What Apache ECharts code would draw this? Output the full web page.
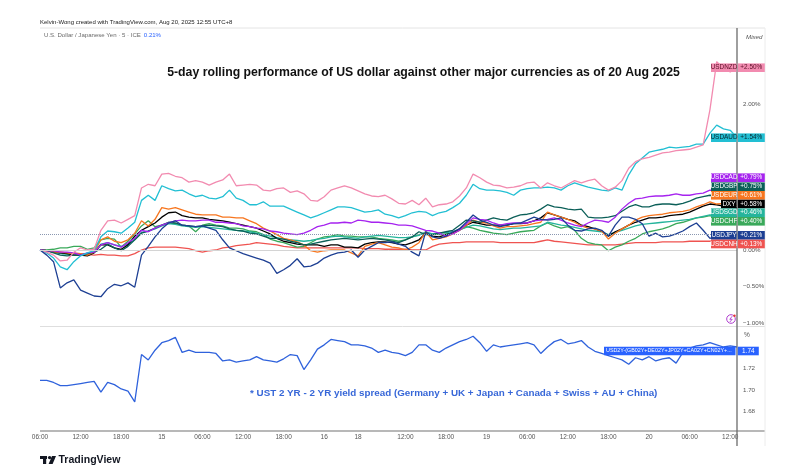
<!DOCTYPE html>
<html><head><meta charset="utf-8">
<script src="https://cdn.jsdelivr.net/npm/echarts@6/dist/echarts.min.js"></script>
<style>html,body{margin:0;padding:0;background:#fff}#c{width:800px;height:472px}</style>
</head><body><div id="c"></div>
<script>
// ---------- DATA ----------
const daySegments = [[14,6,23],[15,0,23],[16,0,4],[18,5,23],[19,0,23],[20,0,13]];
const categories = [];
daySegments.forEach(([d,a,b]) => { for (let h = a; h <= b; h++) categories.push('Aug ' + d + ' ' + String(h).padStart(2,'0') + ':00'); });

const xTickIndex = [0,6,12,18,24,30,36,42,47,54,60,66,72,78,84,90,96,102];
const xTickText  = ['06:00','12:00','18:00','15','06:00','12:00','18:00','16','18','12:00','18:00','19','06:00','12:00','18:00','20','06:00','12:00'];
const topTicks = [2, 0, -0.5, -1];
const bottomTicks = [1.72, 1.70, 1.68];

const USDNZD = [
 0.00,-0.03,-0.07,-0.15,-0.14,-0.03,0.03,0.00,0.01,0.27,
 0.40,0.41,0.37,0.42,0.47,0.85,0.90,0.88,1.04,1.05,
 1.01,0.99,0.93,0.95,0.93,0.89,0.93,0.96,1.04,0.88,
 0.89,0.90,0.89,0.82,0.81,0.84,0.85,0.79,0.81,0.77,
 0.68,0.67,0.73,0.82,0.85,0.88,0.85,0.81,0.77,0.74,
 0.73,0.75,0.70,0.64,0.63,0.68,0.62,0.71,0.59,0.62,
 0.63,0.66,0.74,0.85,1.04,0.99,0.93,0.89,0.88,0.85,
 0.86,0.88,0.92,0.93,0.85,0.92,0.88,0.85,0.90,0.95,
 0.92,0.95,0.97,0.88,0.82,0.86,0.95,1.12,1.21,1.25,
 1.27,1.30,1.33,1.34,1.36,1.37,1.38,1.41,1.44,1.92,
 2.58,2.49,2.44,2.50];
const USDAUD = [
 0.00,-0.04,-0.11,-0.23,-0.27,-0.16,-0.08,-0.04,-0.01,0.18,
 0.26,0.25,0.23,0.30,0.38,0.68,0.75,0.68,0.88,0.84,
 0.81,0.82,0.77,0.73,0.75,0.71,0.70,0.73,0.82,0.71,
 0.68,0.62,0.62,0.66,0.60,0.60,0.60,0.56,0.52,0.48,
 0.44,0.47,0.51,0.55,0.59,0.59,0.58,0.55,0.52,0.53,
 0.55,0.49,0.47,0.44,0.47,0.51,0.53,0.52,0.47,0.51,
 0.53,0.58,0.64,0.75,0.90,0.84,0.82,0.82,0.81,0.79,
 0.75,0.82,0.84,0.85,0.85,0.86,0.85,0.82,0.88,0.92,
 0.89,0.86,0.84,0.82,0.81,0.85,0.82,1.03,1.18,1.26,
 1.34,1.36,1.38,1.41,1.40,1.41,1.42,1.45,1.45,1.60,
 1.71,1.66,1.64,1.54];
const USDCAD = [
 0.00,-0.01,-0.01,-0.03,-0.03,-0.04,-0.07,-0.04,-0.03,0.07,
 0.10,0.07,0.04,0.10,0.16,0.27,0.25,0.30,0.34,0.37,
 0.40,0.41,0.40,0.40,0.41,0.41,0.38,0.38,0.37,0.36,
 0.33,0.32,0.30,0.29,0.26,0.25,0.23,0.22,0.21,0.23,
 0.27,0.32,0.34,0.37,0.37,0.38,0.37,0.41,0.40,0.38,
 0.38,0.37,0.36,0.34,0.34,0.33,0.30,0.27,0.26,0.23,
 0.19,0.22,0.27,0.36,0.44,0.42,0.41,0.37,0.34,0.36,
 0.37,0.37,0.37,0.40,0.41,0.42,0.44,0.41,0.37,0.34,
 0.32,0.37,0.41,0.40,0.38,0.45,0.56,0.64,0.70,0.71,
 0.73,0.74,0.74,0.75,0.77,0.75,0.75,0.77,0.78,0.82,
 0.81,0.79,0.81,0.79];
const USDGBP = [
 0.00,-0.01,-0.04,-0.07,-0.08,-0.07,-0.07,-0.05,-0.03,0.01,
 0.08,0.03,-0.01,0.05,0.14,0.23,0.26,0.30,0.34,0.38,
 0.37,0.34,0.33,0.32,0.33,0.34,0.33,0.32,0.29,0.27,
 0.26,0.23,0.22,0.19,0.16,0.16,0.15,0.12,0.10,0.07,
 0.08,0.10,0.12,0.14,0.15,0.16,0.15,0.14,0.15,0.16,
 0.15,0.14,0.12,0.10,0.14,0.18,0.25,0.21,0.21,0.23,
 0.25,0.27,0.34,0.41,0.40,0.38,0.41,0.44,0.42,0.41,
 0.45,0.48,0.49,0.51,0.56,0.62,0.59,0.58,0.56,0.55,
 0.56,0.45,0.44,0.44,0.45,0.47,0.53,0.59,0.62,0.59,
 0.59,0.62,0.63,0.63,0.62,0.64,0.67,0.71,0.73,0.75,
 0.74,0.75,0.75,0.75];
const USDEUR = [
 0.00,-0.01,-0.03,-0.03,-0.04,-0.05,-0.05,-0.07,-0.03,0.14,
 0.18,0.12,0.10,0.14,0.23,0.40,0.33,0.42,0.58,0.56,
 0.58,0.55,0.52,0.49,0.48,0.48,0.48,0.45,0.45,0.44,
 0.44,0.40,0.36,0.30,0.26,0.21,0.16,0.14,0.11,0.07,
 -0.01,-0.03,-0.01,0.00,0.00,0.00,-0.04,-0.08,0.05,0.08,
 0.10,0.07,0.04,0.03,0.00,0.04,0.10,0.25,0.14,0.16,
 0.18,0.22,0.27,0.34,0.41,0.38,0.37,0.33,0.30,0.32,
 0.32,0.33,0.34,0.36,0.38,0.52,0.48,0.45,0.42,0.38,
 0.33,0.30,0.29,0.26,0.15,0.23,0.29,0.34,0.41,0.45,
 0.47,0.48,0.49,0.51,0.52,0.53,0.55,0.59,0.62,0.66,
 0.63,0.64,0.62,0.61];
const DXY = [
 0.00,-0.01,-0.03,-0.04,-0.05,-0.07,-0.07,-0.08,-0.04,0.07,
 0.07,0.03,0.01,0.07,0.19,0.27,0.32,0.37,0.45,0.51,
 0.52,0.47,0.45,0.44,0.44,0.42,0.41,0.40,0.38,0.36,
 0.34,0.32,0.30,0.26,0.22,0.16,0.12,0.10,0.08,0.07,
 0.07,0.07,0.05,0.07,0.07,0.04,0.04,0.03,0.08,0.10,
 0.11,0.11,0.10,0.08,0.07,0.10,0.14,0.23,0.19,0.18,
 0.21,0.23,0.29,0.34,0.38,0.36,0.34,0.34,0.34,0.34,
 0.36,0.36,0.37,0.40,0.44,0.51,0.48,0.45,0.42,0.40,
 0.34,0.32,0.29,0.26,0.19,0.25,0.29,0.34,0.38,0.41,
 0.44,0.44,0.45,0.47,0.48,0.49,0.52,0.56,0.60,0.63,
 0.62,0.60,0.59,0.58];
const USDSGD = [
 0.00,-0.01,-0.03,-0.05,-0.06,-0.05,-0.06,-0.05,-0.03,0.08,
 0.10,0.07,0.05,0.08,0.14,0.24,0.26,0.29,0.33,0.36,
 0.35,0.33,0.32,0.31,0.32,0.31,0.30,0.29,0.28,0.27,
 0.26,0.25,0.23,0.21,0.19,0.17,0.15,0.14,0.13,0.12,
 0.13,0.15,0.16,0.18,0.19,0.18,0.17,0.16,0.18,0.19,
 0.20,0.19,0.18,0.17,0.17,0.18,0.20,0.25,0.22,0.23,
 0.24,0.25,0.28,0.31,0.34,0.33,0.31,0.29,0.28,0.29,
 0.30,0.30,0.31,0.32,0.33,0.38,0.36,0.34,0.33,0.31,
 0.29,0.27,0.26,0.25,0.21,0.24,0.27,0.30,0.33,0.35,
 0.36,0.37,0.38,0.39,0.40,0.41,0.42,0.44,0.46,0.48,
 0.47,0.46,0.47,0.46];
const USDCHF = [
 0.00,0.00,0.01,0.03,0.03,0.05,0.05,0.01,0.03,0.14,
 0.16,0.15,0.04,0.12,0.22,0.33,0.40,0.32,0.34,0.37,
 0.36,0.34,0.33,0.25,0.34,0.36,0.34,0.33,0.30,0.30,
 0.29,0.26,0.25,0.21,0.15,0.12,0.10,0.07,0.04,0.05,
 0.10,0.15,0.18,0.19,0.21,0.19,0.19,0.18,0.18,0.18,
 0.16,0.15,0.14,0.12,0.14,0.18,0.21,0.23,0.22,0.21,
 0.22,0.23,0.27,0.32,0.30,0.27,0.25,0.23,0.22,0.21,
 0.23,0.25,0.26,0.27,0.33,0.37,0.33,0.30,0.32,0.27,
 0.16,0.10,0.08,0.07,-0.01,0.04,0.07,0.12,0.16,0.22,
 0.25,0.27,0.29,0.32,0.36,0.38,0.41,0.44,0.45,0.47,
 0.44,0.41,0.40,0.40];
const USDJPY = [
 0.00,-0.07,-0.16,-0.52,-0.45,-0.41,-0.55,-0.59,-0.63,-0.64,
 -0.53,-0.47,-0.49,-0.45,-0.51,-0.07,0.05,0.18,0.29,0.37,
 0.40,0.34,0.33,0.32,0.33,0.30,0.27,0.14,0.03,-0.01,
 -0.05,-0.08,-0.11,-0.14,-0.18,-0.32,-0.27,-0.21,-0.12,-0.23,
 -0.22,-0.18,-0.11,-0.07,-0.04,-0.03,0.00,-0.10,0.00,0.05,
 0.10,0.10,0.11,0.08,0.05,-0.03,-0.08,0.25,0.18,0.16,
 0.19,0.25,0.29,0.38,0.48,0.41,0.38,0.34,0.32,0.34,
 0.36,0.37,0.41,0.45,0.42,0.41,0.42,0.44,0.34,0.27,
 0.26,0.29,0.30,0.27,0.19,0.34,0.45,0.45,0.42,0.36,
 0.19,0.23,0.18,0.19,0.22,0.26,0.32,0.37,0.27,0.16,
 0.19,0.21,0.22,0.21];
const USDCNH = [
 0.00,-0.01,-0.03,-0.03,-0.04,-0.04,-0.05,-0.06,-0.07,-0.06,
 -0.07,-0.07,-0.08,-0.08,-0.05,0.00,0.03,0.04,0.04,0.04,
 0.04,0.03,0.02,-0.01,-0.03,-0.01,0.00,0.03,0.04,0.06,
 0.07,0.08,0.10,0.09,0.08,0.07,0.05,0.04,0.03,0.03,
 0.03,0.03,0.03,0.03,0.03,0.03,0.03,0.03,0.02,0.02,
 0.02,0.01,0.01,0.01,0.01,0.00,0.00,0.00,0.05,0.08,
 0.09,0.10,0.10,0.11,0.11,0.11,0.11,0.11,0.10,0.10,
 0.10,0.10,0.10,0.10,0.12,0.14,0.12,0.11,0.10,0.09,
 0.08,0.07,0.07,0.07,0.07,0.07,0.08,0.09,0.10,0.10,
 0.10,0.10,0.11,0.11,0.11,0.11,0.12,0.12,0.12,0.12,
 0.13,0.13,0.13,0.13];
const spread2Y = [
 1.709,1.709,1.707,1.704,1.704,1.705,1.706,1.707,1.708,1.698,
 1.707,1.705,1.701,1.699,1.689,1.733,1.728,1.737,1.744,1.746,
 1.749,1.735,1.737,1.735,1.735,1.735,1.734,1.727,1.728,1.726,
 1.727,1.728,1.731,1.728,1.727,1.726,1.729,1.733,1.732,1.719,
 1.728,1.738,1.742,1.747,1.746,1.745,1.742,1.742,1.741,1.739,
 1.735,1.737,1.735,1.734,1.732,1.735,1.742,1.742,1.737,1.735,
 1.739,1.742,1.745,1.747,1.750,1.744,1.736,1.742,1.740,1.741,
 1.742,1.743,1.744,1.742,1.734,1.740,1.745,1.747,1.743,1.744,
 1.746,1.740,1.736,1.734,1.732,1.730,1.728,1.724,1.730,1.728,
 1.731,1.727,1.729,1.730,1.725,1.735,1.739,1.741,1.742,1.744,
 1.742,1.740,1.741,1.740];

const fxSeries = {USDCNH, USDCHF, USDSGD, DXY, USDEUR, USDGBP, USDCAD, USDAUD, USDNZD, USDJPY};
const spreadName = 'USD2Y-(GB02Y+DE02Y+JP02Y+CA02Y+CN02Y+...';

// ---------- STYLE ----------
const style = {
  USDNZD:{color:'#f28bb0', text:'#5b1027', labelY:67.7, nameW:26},
  USDAUD:{color:'#22bfd3', text:'#08262e', labelY:137.7, nameW:26},
  USDCAD:{color:'#a623ef', text:'#ffffff', labelY:177.7, nameW:26},
  USDGBP:{color:'#0b5f58', text:'#ffffff', labelY:186.7, nameW:26},
  USDEUR:{color:'#f7761f', text:'#ffffff', labelY:195.3, nameW:26},
  DXY:   {color:'#000000', text:'#ffffff', labelY:204.0, nameW:16},
  USDSGD:{color:'#25b49c', text:'#ffffff', labelY:212.7, nameW:26},
  USDCHF:{color:'#3aa95a', text:'#ffffff', labelY:221.3, nameW:26},
  USDJPY:{color:'#1d3f93', text:'#ffffff', labelY:235.3, nameW:26},
  USDCNH:{color:'#ef5350', text:'#ffffff', labelY:244.0, nameW:26}
};
const FONT = "'Liberation Sans'";
const mctx = document.createElement('canvas').getContext('2d');
function fitSize(text, weight, width) { mctx.font = weight + ' 100px ' + FONT; return 100 * width / mctx.measureText(text).width; }
function measure(text, weight, size) { mctx.font = weight + ' ' + size + 'px ' + FONT; return mctx.measureText(text).width; }
function txt(text, x, y, o) {
  return {type:'text', silent:true, z:100, style:Object.assign({text:text, x:x, y:y, fill:'#000', fontSize:7, fontFamily:'Liberation Sans', fontWeight:'normal', textAlign:'left', textVerticalAlign:'middle'}, o || {})};
}
function line(x1,y1,x2,y2,stroke,w){ return {type:'line', silent:true, z:90, shape:{x1,y1,x2,y2}, style:{stroke, lineWidth:w}}; }
function rect(x,y,w,h,fill){ return {type:'rect', silent:true, z:100, shape:{x,y,width:w,height:h}, style:{fill}}; }
function fmtPct(v){ return (v < 0 ? '\u2212' : (v > 0 ? '+' : '')) + Math.abs(v).toFixed(2) + '%'; }

const AX = 737, LH = 8.6, VALW = 27, LFS = 6.4;
const graphics = [];
// frame lines
graphics.push(line(40,28,765,28,'#e4e4e4',1));
graphics.push(line(40,326.5,765,326.5,'#dedede',1));
graphics.push(line(40,431,765,431,'#a0a0a0',1.6));
graphics.push(line(765,28,765,446,'#ececec',1));
graphics.push(line(AX,28,AX,446,'#6b6b6b',1.3));

// header texts
const h1 = 'Kelvin-Wong created with TradingView.com, Aug 20, 2025 12:55 UTC+8';
graphics.push(txt(h1, 40, 22, {fontSize: fitSize(h1,'normal',193), fill:'#222'}));
const h2 = 'U.S. Dollar / Japanese Yen \u00b7 5 \u00b7 ICE';
const h2s = fitSize(h2,'normal',97);
graphics.push(txt(h2, 44, 35.5, {fontSize:h2s, fill:'#6a6a6a'}));
graphics.push(txt('0.21%', 44 + measure(h2,'normal',h2s) + 3, 35.5, {fontSize:h2s, fill:'#2962ff'}));
graphics.push(txt('Mixed', 746, 37, {fontSize:6.2, fill:'#555', fontStyle:'italic'}));
graphics.push(txt('%', 744, 335, {fontSize:6.5, fill:'#555'}));

// title & note
const title = '5-day rolling performance of US dollar against other major currencies as of 20 Aug 2025';
graphics.push(txt(title, 423.5, 73, {fontSize: fitSize(title,'bold',513), fontWeight:'bold', textAlign:'center', fill:'#111'}));
const note = '* UST 2 YR - 2 YR yield spread (Germany + UK + Japan + Canada + Swiss + AU + China)';
graphics.push(txt(note, 250, 393, {fontSize: fitSize(note,'bold',408), fontWeight:'bold', fill:'#3767d8'}));

// end labels (top)
Object.keys(style).forEach(name => {
  const s = style[name], arr = fxSeries[name], v = arr[arr.length - 1];
  const y0 = s.labelY - LH/2;
  graphics.push(rect(AX - s.nameW, y0, s.nameW - 0.5, LH, s.color));
  graphics.push(txt(name, AX - s.nameW/2, s.labelY, {fontSize:LFS, fill:s.text, textAlign:'center'}));
  graphics.push(rect(AX + 0.8, y0, VALW, LH, s.color));
  graphics.push(txt(fmtPct(v), AX + 0.8 + VALW/2, s.labelY, {fontSize:LFS, fill:s.text, textAlign:'center'}));
});
// end label (bottom)
{
  const v = spread2Y[spread2Y.length - 1], yc = 351;
  graphics.push(rect(604, yc - LH/2, AX - 604 - 1.5, LH, '#2962ff'));
  graphics.push(txt(spreadName, 606, yc, {fontSize: Math.min(LFS, fitSize(spreadName,'normal',126)), fill:'#fff'}));
  graphics.push(rect(AX + 0.8, yc - LH/2, 21, LH, '#2962ff'));
  graphics.push(txt(v.toFixed(2), AX + 0.8 + 10.5, yc, {fontSize:LFS, fill:'#fff', textAlign:'center'}));
}
// small icon
graphics.push({type:'circle', silent:true, z:100, shape:{cx:731, cy:319, r:4.3}, style:{fill:'#fff', stroke:'#b03ccf', lineWidth:1}});
graphics.push({type:'polyline', silent:true, z:101, shape:{points:[[732.2,316.2],[729.8,319.3],[732.2,319.3],[729.8,322]]}, style:{stroke:'#b03ccf', fill:null, lineWidth:0.9}});
graphics.push({type:'circle', silent:true, z:101, shape:{cx:734.5, cy:315.8, r:1.2}, style:{fill:'#e53935'}});
// TradingView logo
graphics.push(rect(40, 456, 7, 3, '#131722'));
graphics.push(rect(43, 456, 3.2, 8, '#131722'));
graphics.push({type:'circle', silent:true, z:100, shape:{cx:49.6, cy:457.6, r:1.7}, style:{fill:'#131722'}});
graphics.push({type:'polygon', silent:true, z:100, shape:{points:[[52,456],[56,456],[52.6,464],[48.6,464]]}, style:{fill:'#131722'}});
graphics.push(txt('TradingView', 58.5, 460.5, {fontSize: fitSize('TradingView','bold',62), fontWeight:'bold', fill:'#131722'}));

// ---------- SERIES ----------
const series = Object.keys(fxSeries).map(name => {
  const sr = {
    name, type:'line', xAxisIndex:0, yAxisIndex:0, data: fxSeries[name],
    showSymbol:false, symbol:'none', silent:true,
    lineStyle:{color: style[name].color, width: 1.3}, itemStyle:{color: style[name].color}
  };
  if (name === 'USDJPY') sr.markLine = {silent:true, symbol:['none','none'], label:{show:false},
      lineStyle:{type:'dotted', color:'#8a97b0', width:1}, data:[{yAxis: USDJPY[USDJPY.length-1]}]};
  if (name === 'USDCNH') sr.markLine = {silent:true, symbol:['none','none'], label:{show:false},
      lineStyle:{type:'solid', color:'#d4d4d4', width:1}, data:[{yAxis: 0}]};
  return sr;
});
series.push({name: spreadName, type:'line', xAxisIndex:1, yAxisIndex:1, data: spread2Y,
  showSymbol:false, symbol:'none', silent:true, lineStyle:{color:'#2f62dc', width:1.3}});

const TOPMAX = 3.0411, TOPMIN = -1.0274;
const option = {
  animation:false, backgroundColor:'#ffffff',
  grid:[
    {left:40, right:63, top:28, height:297},
    {left:40, right:63, top:327, height:103}
  ],
  xAxis:[
    {type:'category', gridIndex:0, data:categories, boundaryGap:false, show:false},
    {type:'category', gridIndex:1, data:categories, boundaryGap:false,
     axisLine:{show:false}, axisTick:{show:false}, splitLine:{show:false},
     axisLabel:{interval:(i) => xTickIndex.indexOf(i) >= 0,
                formatter:(v, i) => { const k = xTickIndex.indexOf(i); return k >= 0 ? xTickText[k] : ''; },
                fontSize:6.5, color:'#555', margin:4, fontFamily:'Liberation Sans'}}
  ],
  yAxis:[
    {type:'value', gridIndex:0, position:'right', min:TOPMIN, max:TOPMAX,
     splitLine:{show:false}, axisLine:{show:false}, axisTick:{show:false},
     axisLabel:{customValues:topTicks, formatter:(v) => (v < 0 ? '\u2212' : '') + Math.abs(v).toFixed(2) + '%',
                fontSize:6.2, color:'#555', margin:6, fontFamily:'Liberation Sans'}},
    {type:'value', gridIndex:1, position:'right', min:1.6628, max:1.7586,
     splitLine:{show:false}, axisLine:{show:false}, axisTick:{show:false},
     axisLabel:{customValues:bottomTicks, formatter:(v) => v.toFixed(2),
                fontSize:6.2, color:'#555', margin:6, fontFamily:'Liberation Sans'}}
  ],
  series: series,
  graphic: graphics
};
const chart = echarts.init(document.getElementById('c'), null, {renderer:'canvas'});
chart.setOption(option);
</script></body></html>
